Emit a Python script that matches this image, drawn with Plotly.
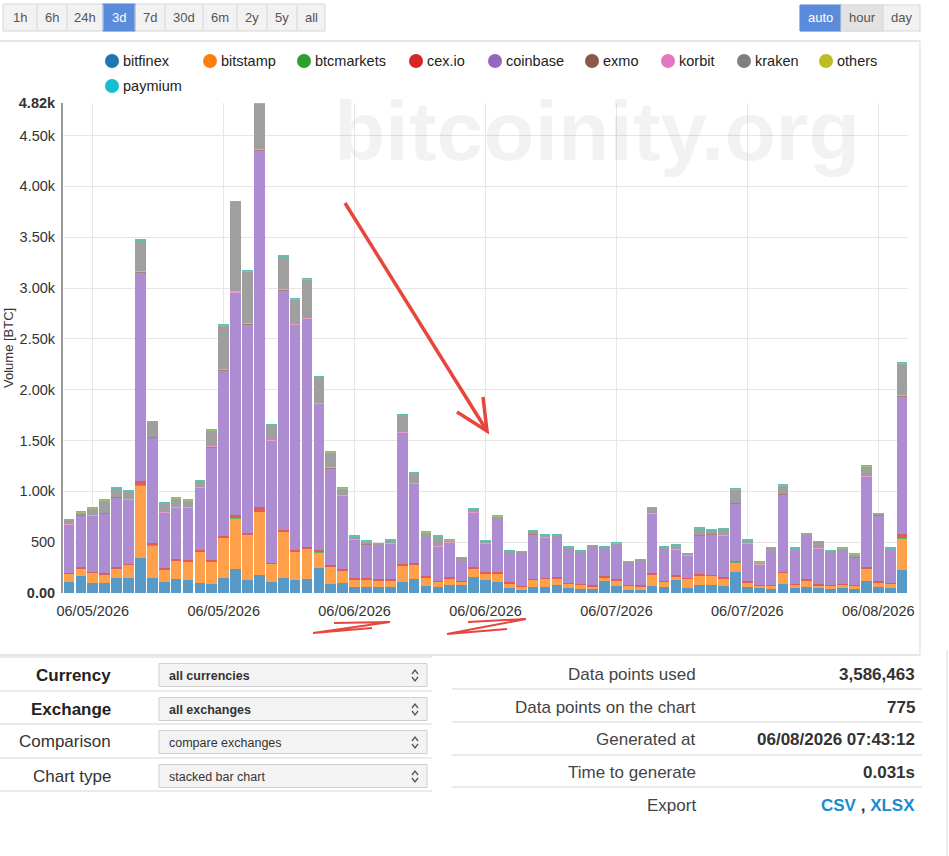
import plotly.graph_objects as go

# ---------------- data (BTC volume per bar, 71 bars over 3 days) ----------------
bitfinex = [106,165,96,96,145,145,347,145,112,139,
            129,96,89,152,238,132,178,109,149,129,
            139,250,89,96,56,63,63,63,112,135,
            69,56,76,76,162,125,112,53,33,59,
            59,83,50,40,40,119,69,33,33,73,
            63,125,46,76,83,73,205,63,46,43,
            86,50,56,46,43,50,36,116,56,46,
            231]
bitstamp = [82,79,102,85,93,132,709,327,119,184,
            178,313,221,389,498,442,621,178,455,280,
            301,150,175,128,76,69,62,62,159,149,
            83,53,69,36,76,70,83,43,26,70,
            80,62,39,43,26,36,56,40,33,112,
            49,40,93,99,85,72,99,43,23,26,
            112,33,66,30,26,33,33,128,50,46,
            304]
btcmarkets = [1,1,1,1,1,1,2,1,1,1,
              1,1,1,2,2,1,2,1,2,1,
              1,1,1,1,1,1,1,1,1,1,
              1,1,1,1,1,1,1,1,1,1,
              1,1,1,1,1,1,1,1,1,1,
              1,1,1,1,1,1,1,1,1,1,
              1,1,1,1,1,1,1,1,1,1,
              2]
cexio = [12,10,10,10,12,12,40,15,10,12,
         12,12,12,15,30,15,43,12,15,15,
         15,20,12,10,10,10,10,10,12,12,
         10,10,10,8,12,10,12,8,8,10,
         10,10,8,8,8,8,8,8,8,12,
         8,10,8,10,10,10,12,10,8,8,
         12,8,10,8,8,8,8,12,10,8,
         40]
coinbase = [470,510,550,592,690,625,2057,1044,546,503,
            522,612,1113,1632,2184,2053,3510,1196,2357,2215,
            2242,1440,952,721,386,337,327,353,1294,780,
            389,336,340,194,542,283,521,292,316,439,
            396,390,335,295,372,273,329,206,230,585,
            316,254,223,383,400,406,565,372,200,326,
            760,331,429,352,316,331,276,886,650,322,
            1356]
exmo = [3,3,3,3,4,3,8,4,3,3,
        3,3,4,6,8,6,10,4,7,6,
        6,5,4,3,2,2,2,2,5,4,
        2,2,2,2,3,2,3,2,2,2,
        2,2,2,2,2,2,2,2,2,3,
        2,2,2,3,3,3,4,2,2,2,
        4,2,2,2,2,2,2,4,3,2,
        8]
korbit = [2,2,2,2,2,2,6,3,2,2,
          2,2,3,4,6,4,8,3,5,4,
          4,4,3,2,1,1,1,1,4,3,
          1,1,1,1,2,1,2,1,1,1,
          1,1,1,1,1,1,1,1,1,2,
          1,1,1,2,2,2,3,1,1,1,
          3,1,1,1,1,1,1,3,2,1,
          6]
kraken = [43,23,72,122,79,76,294,144,86,86,
          63,56,157,436,882,512,442,150,316,238,
          380,247,150,70,22,28,17,24,165,90,
          39,95,22,27,30,21,19,14,17,28,
          22,15,18,18,14,14,21,14,17,50,
          14,34,10,59,29,63,130,24,21,37,
          81,11,17,63,17,15,24,97,8,11,
          312]
others = [6,6,6,6,6,6,7,6,6,6,
          6,6,6,6,6,6,6,6,7,7,
          7,6,6,6,6,6,5,5,6,6,
          6,6,6,5,6,5,5,5,5,6,
          6,6,5,5,5,5,5,5,5,6,
          5,5,5,6,6,6,6,5,5,5,
          6,5,5,5,5,5,5,6,5,5,
          7]
paymium = [2,2,2,2,2,2,3,2,2,2,
           2,2,2,2,2,2,2,2,3,3,
           3,2,2,2,2,2,1,1,2,2,
           2,2,2,1,2,1,1,1,1,2,
           2,2,1,1,1,1,1,1,1,2,
           1,1,1,2,2,2,2,1,1,1,
           2,1,1,1,1,1,1,2,1,1,
           3]

exchanges = ["bitfinex", "bitstamp", "btcmarkets", "cex.io", "coinbase",
             "exmo", "korbit", "kraken", "others", "paymium"]
series = [bitfinex, bitstamp, btcmarkets, cexio, coinbase, exmo, korbit, kraken, others, paymium]

x_tick_pos = [2, 13, 24, 35, 46, 57, 68]
x_tick_labels = ["06/05/2026", "06/05/2026", "06/06/2026", "06/06/2026",
                 "06/07/2026", "06/07/2026", "06/08/2026"]
y_tick_vals = [0, 500, 1000, 1500, 2000, 2500, 3000, 3500, 4000, 4500, 4820]
y_tick_text = ["<b>0.00</b>", "500", "1.00k", "1.50k", "2.00k", "2.50k", "3.00k",
               "3.50k", "4.00k", "4.50k", "<b>4.82k</b>"]

legend_colors = ["#1f77b4", "#ff7f0e", "#2ca02c", "#d62728", "#9467bd",
                 "#8c564b", "#e377c2", "#7f7f7f", "#bcbd22", "#17becf"]
bar_colors = ["#5799c7", "#ffa04a", "#61b861", "#e05d5e", "#ae8cd2",
              "#a98078", "#ea99d1", "#9f9f9f", "#9cc27a", "#5cc2b5"]

# ---------------- figure ----------------
W, H = 949, 856
L, R, T, B = 63, 908, 103, 593
FONT = "Liberation Sans, Arial, Helvetica, sans-serif"

def X(p):
    return (p - L) / (R - L)

def Y(p):
    return (B - p) / (B - T)

fig = go.Figure()
idx = list(range(len(bitfinex)))
for name, vals, col in zip(exchanges, series, bar_colors):
    fig.add_trace(go.Bar(x=idx, y=vals, name=name, marker=dict(color=col, line=dict(width=0)),
                         showlegend=False))

shapes = []
ann = []

def rect(x0, y0, x1, y1, fill="rgba(0,0,0,0)", line="rgba(0,0,0,0)", lw=1):
    shapes.append(dict(type="rect", xref="paper", yref="paper", x0=X(x0), x1=X(x1),
                       y0=Y(y1), y1=Y(y0), fillcolor=fill, line=dict(color=line, width=lw),
                       layer="above"))

def hline(x0, x1, y, color="#e3e3e3", lw=1.5):
    shapes.append(dict(type="line", xref="paper", yref="paper", x0=X(x0), x1=X(x1),
                       y0=Y(y), y1=Y(y), line=dict(color=color, width=lw)))

def vline(x, y0, y1, color="#e3e3e3", lw=1.5):
    shapes.append(dict(type="line", xref="paper", yref="paper", x0=X(x), x1=X(x),
                       y0=Y(y0), y1=Y(y1), line=dict(color=color, width=lw)))

def path(pts, color, lw):
    d = "M " + " L ".join(f"{X(a):.5f},{Y(b):.5f}" for a, b in pts)
    shapes.append(dict(type="path", xref="paper", yref="paper", path=d,
                       line=dict(color=color, width=lw)))

def text(x, y, s, size=14, color="#333", xanchor="left", bold=False, angle=0):
    ann.append(dict(xref="paper", yref="paper", x=X(x), y=Y(y), text=(f"<b>{s}</b>" if bold else s),
                    showarrow=False, xanchor=xanchor, yanchor="middle", textangle=angle,
                    font=dict(family=FONT, size=size, color=color)))

# top range buttons
btn_edges = [3, 37, 67, 103, 135, 165, 203, 237, 267, 297, 325]
btn_labels = ["1h", "6h", "24h", "3d", "7d", "30d", "6m", "2y", "5y", "all"]
rect(3, 4, 325, 31, fill="#f2f2f2", line="#d6d6d6")
rect(103, 4, 135, 31, fill="#5b8cdb", line="#5b8cdb")
for e in btn_edges[1:-1]:
    vline(e, 5, 30, color="#d6d6d6", lw=1)
for i, lab in enumerate(btn_labels):
    cx = (btn_edges[i] + btn_edges[i + 1]) / 2
    text(cx, 18, lab, size=13, color="#fff" if lab == "3d" else "#555", xanchor="center")

rect(800, 5, 920, 31, fill="#f2f2f2", line="#d6d6d6")
rect(800, 5, 841, 31, fill="#5b8cdb", line="#5b8cdb")
rect(841, 5, 883, 31, fill="#e2e2e2", line="#d6d6d6")
text(820.5, 18, "auto", size=13, color="#fff", xanchor="center")
text(862, 18, "hour", size=13, color="#555", xanchor="center")
text(901.5, 18, "day", size=13, color="#555", xanchor="center")

# chart container
hline(0, 920, 41, color="#e6e6e6", lw=2)
vline(920, 41, 655, color="#e6e6e6", lw=1.5)
hline(0, 920, 655, color="#e6e6e6", lw=2)
vline(947, 650, 856, color="#e6e6e6", lw=1.5)

# custom legend (circles)
legend_pos = [(112, 61), (210, 61), (304, 61), (416, 61), (495, 61),
              (592, 61), (668, 61), (744, 61), (826, 61), (112, 86)]
for (cx, cy), name, col in zip(legend_pos, exchanges, legend_colors):
    shapes.append(dict(type="circle", xref="paper", yref="paper",
                       x0=X(cx - 7), x1=X(cx + 7), y0=Y(cy + 7), y1=Y(cy - 7),
                       fillcolor=col, line=dict(width=0)))
    text(cx + 9, cy, name, size=14.5, color="#222")

# watermark
ann.append(dict(xref="paper", yref="paper", x=X(597), y=Y(131), text="<b>bitcoinity.org</b>",
                showarrow=False, xanchor="center", yanchor="middle",
                font=dict(family=FONT, size=84, color="rgba(0,0,0,0.05)")))

# y axis title (at the far left edge)
text(8, 348, "Volume [BTC]", size=13, color="#333", xanchor="center", angle=-90)

# red hand-drawn arrow and scribbles
path([(345, 203), (487, 431)], "#e8453c", 3.5)
path([(457, 412), (487, 431), (483, 397)], "#e8453c", 3.5)
path([(334, 623), (390, 622), (313, 633), (372, 628)], "#e8453c", 2)
path([(468, 622), (526, 619), (447, 634), (507, 629)], "#e8453c", 2)

# lower left form
for yy in [657, 691, 724, 758, 791]:
    hline(0, 432, yy, color="#e3e3e3", lw=1.5)
form_rows = [("Currency", "all currencies", True, 675),
             ("Exchange", "all exchanges", True, 709),
             ("Comparison", "compare exchanges", False, 742),
             ("Chart type", "stacked bar chart", False, 776)]
for lab, val, bold, yy in form_rows:
    text(113, yy, lab, size=17, color="#222" if bold else "#333", xanchor="right", bold=bold)
    rect(159, yy - 11.5, 427, yy + 11.5, fill="#f3f3f3", line="#cfcfcf")
    text(167, yy + 1, val, size=12.5, color="#333", bold=bold)
    path([(412, yy - 1), (415, yy - 5), (418, yy - 1)], "#555", 1.3)
    path([(412, yy + 2), (415, yy + 6), (418, yy + 2)], "#555", 1.3)

# lower right info table
for yy in [689, 722, 755, 787]:
    hline(452, 922, yy, color="#e3e3e3", lw=1.5)
info_rows = [("Data points used", "3,586,463", 674),
             ("Data points on the chart", "775", 707),
             ("Generated at", "06/08/2026 07:43:12", 739),
             ("Time to generate", "0.031s", 772)]
for lab, val, yy in info_rows:
    text(698, yy, lab, size=17, color="#444", xanchor="right")
    text(917, yy, val, size=17, color="#333", xanchor="right", bold=True)
text(698, 805, "Export", size=17, color="#444", xanchor="right")
text(917, 805, "<span style='color:#1b8bcb'>CSV</span> , <span style='color:#1b8bcb'>XLSX</span>",
     size=17, color="#333", xanchor="right", bold=True)

fig.update_layout(
    width=W, height=H,
    margin=dict(l=L, r=W - R, t=T, b=H - B, pad=0),
    barmode="stack", bargap=0.1,
    paper_bgcolor="white", plot_bgcolor="white",
    font=dict(family=FONT, color="#333"),
    shapes=shapes, annotations=ann,
    xaxis=dict(range=[-0.5, 70.5], tickmode="array", tickvals=x_tick_pos, ticktext=x_tick_labels,
               showgrid=True, gridcolor="#e6e6e6", gridwidth=1, zeroline=False,
               ticks="outside", ticklen=5, tickcolor="rgba(0,0,0,0)",
               tickfont=dict(size=14.5, color="#333"), showline=False),
    yaxis=dict(range=[0, 4820], tickmode="array", tickvals=y_tick_vals, ticktext=y_tick_text,
               showgrid=True, gridcolor="#e6e6e6", gridwidth=1, zeroline=False,
               showline=True, linecolor="#999", linewidth=2,
               ticks="outside", ticklen=3, tickcolor="rgba(0,0,0,0)",
               tickfont=dict(size=14.5, color="#333")),
    showlegend=False,
)

fig.write_html("out.html")
